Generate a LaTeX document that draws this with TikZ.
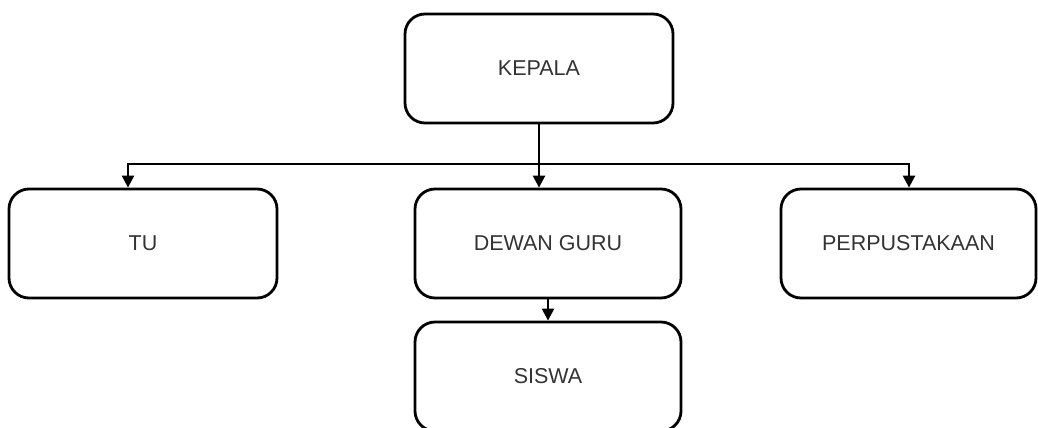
\documentclass[tikz,border=0pt]{standalone}
\usepackage{fontspec}
\setmainfont{Liberation Sans}
\usetikzlibrary{arrows.meta}
\definecolor{txt}{HTML}{333333}
\begin{document}
\begin{tikzpicture}[x=1pt,y=-1pt,
  box/.style={draw=black, line width=2.8pt, rounded corners=20pt, minimum height=109pt, inner sep=0pt, text=txt, font=\fontsize{21.5}{24}\selectfont},
  conn/.style={draw=black, line width=2.5pt, -{Triangle[length=12pt,width=12pt]}},
  seg/.style={draw=black, line width=2.5pt}]
\useasboundingbox (0,0) rectangle (1038,428);
\node[box, minimum width=268pt] (kepala) at (539,68.5) {KEPALA};
\node[box, minimum width=268pt] (tu) at (143,243.5) {TU};
\node[box, minimum width=266pt] (dewan) at (548,243.5) {DEWAN GURU};
\node[box, minimum width=255pt] (perpus) at (908.5,243.5) {PERPUSTAKAAN};
\node[box, minimum width=266pt] (siswa) at (548,376.5) {SISWA};
\coordinate (j) at (539,164);
\coordinate (jl) at (128,164);
\coordinate (jr) at (909,164);
\draw[seg] (kepala.south -| j) -- (j);
\draw[conn] (j) -- (jl) -- (jl |- tu.north);
\draw[conn] (j) -- (jr) -- (jr |- perpus.north);
\draw[conn] (j) -- (j |- dewan.north);
\draw[conn] (dewan.south) -- (siswa.north);
\end{tikzpicture}
\end{document}
